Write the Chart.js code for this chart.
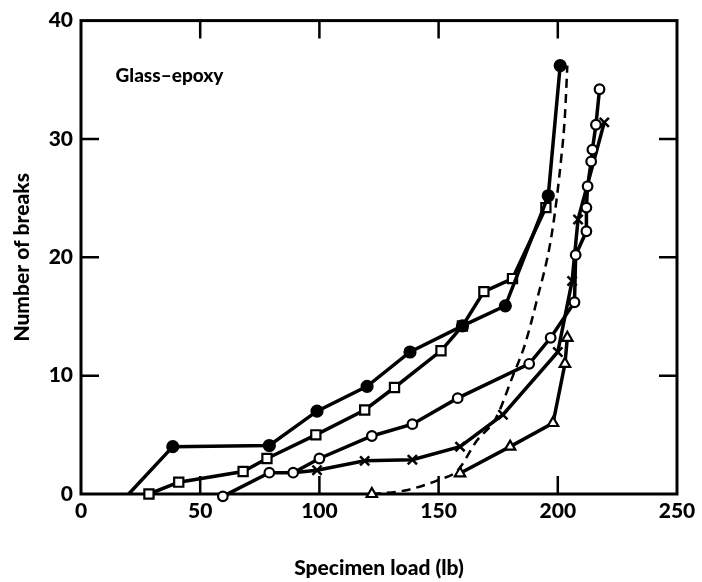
<!DOCTYPE html>
<html><head><meta charset="utf-8">
<script src="https://cdn.jsdelivr.net/npm/chart.js@4/dist/chart.umd.min.js"></script>
<style>html,body{margin:0;padding:0;background:#fff;} canvas{display:block;}</style>
</head><body>
<canvas id="c" width="702" height="582"></canvas>
<script>
const FONT = 'Lato, "DejaVu Sans", sans-serif';
const xTickValues = [0, 50, 100, 150, 200, 250];
const yTickValues = [0, 10, 20, 30, 40];
const innerTickX = [50, 100, 150, 200];
const innerTickY = [10, 20, 30];
const annotationText = 'Glass\u2013epoxy';
const xTitle = 'Specimen load (lb)';
const yTitle = 'Number of breaks';

// Filled circles
const filledLoad   = [20, 38.5, 79, 99, 120, 138, 160, 178, 196, 201];
const filledBreaks = [0, 4, 4.1, 7, 9.1, 12, 14.2, 15.9, 25.2, 36.2];
// Open squares
const squareLoad   = [28.5, 41, 68, 78, 98.5, 119, 131.5, 151, 160, 169, 181, 195];
const squareBreaks = [0, 1, 1.9, 3, 5, 7.1, 9, 12.1, 14.2, 17.1, 18.2, 24.2];
// Open circles
const circleLoad   = [59.5, 79, 89, 100, 122, 139, 158, 188, 197, 207, 207.5, 212, 212, 212.5, 214, 214.5, 216, 217.5];
const circleBreaks = [-0.2, 1.8, 1.8, 3, 4.9, 5.9, 8.1, 11, 13.2, 16.2, 20.2, 22.2, 24.2, 26, 28.1, 29.1, 31.2, 34.2];
// Crosses
const crossLoad    = [89, 99, 119, 139, 159, 177, 200, 206, 208.5, 219.5];
const crossBreaks  = [1.8, 2, 2.8, 2.9, 4, 6.7, 12, 18, 23.2, 31.4];
// Open triangles
const triLoad      = [159, 180, 198, 203, 204];
const triBreaks    = [1.75, 4, 6, 11, 13.2];
// Dashed curve
const dashLoad     = [122, 136, 150, 158, 166, 174, 181, 186, 191, 197.5, 201.5, 203, 204];
const dashBreaks   = [0, 0.3, 1.2, 2, 4.5, 6.4, 9.9, 12.5, 16.2, 22, 28.5, 32, 36.2];

const pts = (xs, ys) => xs.map((x, i) => ({x, y: ys[i]}));

const framePlugin = {
  id: 'frame',
  beforeDatasetsDraw(chart) {
    const {ctx, chartArea: a, scales: {x, y}} = chart;
    ctx.save();
    ctx.strokeStyle = '#000';
    ctx.lineWidth = 3;
    ctx.strokeRect(a.left, a.top, a.right - a.left, a.bottom - a.top);
    ctx.lineWidth = 2.5;
    const L = 18;
    ctx.beginPath();
    innerTickX.forEach(v => {
      const px = x.getPixelForValue(v);
      ctx.moveTo(px, a.bottom); ctx.lineTo(px, a.bottom - L);
      ctx.moveTo(px, a.top); ctx.lineTo(px, a.top + L);
    });
    innerTickY.forEach(v => {
      const py = y.getPixelForValue(v);
      ctx.moveTo(a.left, py); ctx.lineTo(a.left + L, py);
      ctx.moveTo(a.right, py); ctx.lineTo(a.right - L, py);
    });
    ctx.stroke();
    ctx.fillStyle = '#000';
    ctx.font = '900 19px ' + FONT;
    ctx.textAlign = 'left';
    ctx.textBaseline = 'middle';
    ctx.fillText(annotationText, x.getPixelForValue(14.5), y.getPixelForValue(35.3));
    ctx.restore();
  }
};

const base = {
  showLine: true, borderColor: '#000', borderWidth: 3.5, pointBorderColor: '#000',
  pointBorderWidth: 2.2, pointBackgroundColor: '#fff', clip: false, tension: 0
};

new Chart(document.getElementById('c'), {
  type: 'scatter',
  data: {
    datasets: [
      Object.assign({}, base, {data: pts(dashLoad, dashBreaks), borderWidth: 2.5, borderDash: [9, 6],
        cubicInterpolationMode: 'monotone', pointStyle: 'triangle', order: 6,
        pointRadius: dashLoad.map((v, i) => i === 0 ? 6 : 0)}),
      Object.assign({}, base, {data: pts(filledLoad, filledBreaks), pointStyle: 'circle', order: 1,
        pointBackgroundColor: '#000', pointRadius: filledLoad.map((v, i) => i === 0 ? 0 : 5.5)}),
      Object.assign({}, base, {data: pts(squareLoad, squareBreaks), pointStyle: 'rect', pointRadius: 6.5, order: 2}),
      Object.assign({}, base, {data: pts(circleLoad, circleBreaks), pointStyle: 'circle', pointRadius: 4.8, order: 3}),
      Object.assign({}, base, {data: pts(crossLoad, crossBreaks), pointStyle: 'crossRot', order: 4,
        pointBorderWidth: 2.5, pointRadius: crossLoad.map((v, i) => i === 0 ? 0 : 6.5)}),
      Object.assign({}, base, {data: pts(triLoad, triBreaks), pointStyle: 'triangle', pointRadius: 6, order: 5})
    ]
  },
  options: {
    responsive: false, animation: false, devicePixelRatio: 1,
    layout: {padding: {top: 14, right: 25, left: 0, bottom: 0}},
    plugins: {legend: {display: false}, tooltip: {enabled: false}},
    scales: {
      x: {
        type: 'linear', min: 0, max: 250,
        afterFit: s => { s.height = 88; },
        afterBuildTicks: s => { s.ticks = xTickValues.map(v => ({value: v})); },
        grid: {display: false, drawTicks: false},
        border: {display: false},
        ticks: {color: '#000', padding: 5, font: {family: FONT, size: 21, weight: '900'}, maxRotation: 0},
        title: {display: true, text: xTitle, color: '#000', padding: {top: 4, bottom: 1},
          font: {family: FONT, size: 21, weight: '900'}}
      },
      y: {
        type: 'linear', min: 0, max: 40,
        afterFit: s => { s.width = 81; },
        afterBuildTicks: s => { s.ticks = yTickValues.map(v => ({value: v})); },
        grid: {display: false, drawTicks: false},
        border: {display: false},
        ticks: {color: '#000', padding: 8, font: {family: FONT, size: 21, weight: '900'}},
        title: {display: true, text: yTitle, color: '#000', padding: {top: 10, bottom: 4},
          font: {family: FONT, size: 21, weight: '900'}}
      }
    }
  },
  plugins: [framePlugin]
});
</script>
</body></html>
